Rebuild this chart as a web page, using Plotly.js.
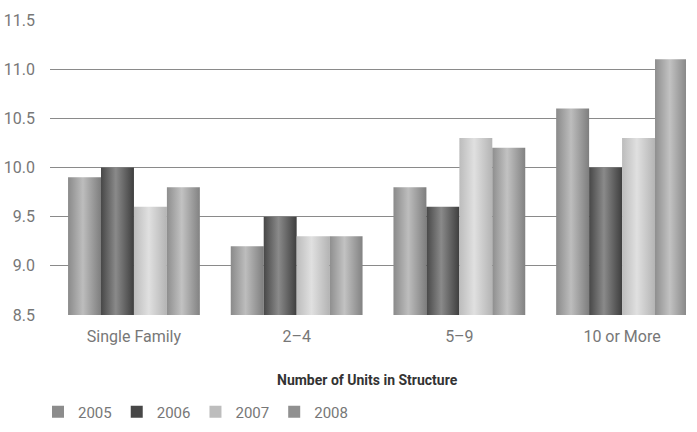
<!DOCTYPE html>
<html><head><meta charset="utf-8">
<script src="https://cdn.plot.ly/plotly-3.0.1.min.js"></script>
<style>body{margin:0;background:#fff}#c{width:697px;height:432px}</style>
</head><body><div id="c"></div>
<script>
const categories = ["Single Family", "2–4", "5–9", "10 or More"];
const years = ["2005", "2006", "2007", "2008"];
const v2005 = [9.9, 9.2, 9.8, 10.6];
const v2006 = [10.0, 9.5, 9.6, 10.0];
const v2007 = [9.6, 9.3, 10.3, 10.3];
const v2008 = [9.8, 9.3, 10.2, 11.1];
const yTicks = [8.5, 9.0, 9.5, 10.0, 10.5, 11.0, 11.5];
const xTitle = "Number of Units in Structure";

const series = [v2005, v2006, v2007, v2008];
const colors = ["#8c8c8c", "#474747", "#bdbdbd", "#909090"];
const grads = [["#8a8a8a","#bdbdbd","#7e7e7e"],["#474747","#8a8a8a","#3e3e3e"],["#bcbcbc","#e0e0e0","#b4b4b4"],["#8e8e8e","#c2c2c2","#828282"]];
const FONT = "Roboto, 'Liberation Sans', sans-serif";
const BASE = 8.5;

const traces = series.map((vals, i) => ({
  type: "bar", name: years[i], x: categories, y: vals.map(v => v - BASE),
  base: BASE,
  marker: {color: colors[i], line: {width: 0}},
  hoverinfo: "skip"
}));

const layout = {
  width: 697, height: 432,
  margin: {l: 50, r: 11, t: 20, b: 117, autoexpand: false},
  paper_bgcolor: "#fff", plot_bgcolor: "#fff",
  barmode: "group", bargap: 0.19, bargroupgap: 0,
  font: {family: FONT, color: "#777", size: 15},
  xaxis: {
    range: [-0.516, 3.393], showgrid: false, zeroline: false, showline: false,
    ticks: "", ticklabelstandoff: 10, tickfont: {size: 16, color: "#777"}, automargin: false
  },
  yaxis: {
    range: [8.5, 11.5], tickvals: yTicks, ticktext: yTicks.map(v => v.toFixed(1)),
    showgrid: true, gridcolor: "#8a8a8a", gridwidth: 1, zeroline: false,
    ticks: "", ticklabelstandoff: 14, tickfont: {size: 16, color: "#777"}, automargin: false
  },
  annotations: [{
    text: "<b>" + xTitle + "</b>", xref: "paper", yref: "paper",
    x: (367 - 50) / 636, y: -(380 - 315) / 295, xanchor: "center", yanchor: "middle",
    showarrow: false, font: {size: 14, color: "#333", family: FONT}
  }],
  showlegend: true,
  legend: {orientation: "h", x: 38/697, xanchor: "left", xref: "container", yref: "container",
    y: 1 - 412/432, yanchor: "middle",
    font: {size: 15, color: "#777"}, traceorder: "normal", itemwidth: 30}
};

Plotly.newPlot("c", traces, layout, {displayModeBar: false, staticPlot: true}).then(gd => {
  const svg = gd.querySelector("svg.main-svg");
  const ns = "http://www.w3.org/2000/svg";
  let defs = svg.querySelector("defs");
  grads.forEach((g, i) => {
    const lg = document.createElementNS(ns, "linearGradient");
    lg.setAttribute("id", "bg" + i);
    lg.setAttribute("x1", "0"); lg.setAttribute("x2", "1"); lg.setAttribute("y1", "0"); lg.setAttribute("y2", "0");
    [[0, g[0]], [0.45, g[1]], [1, g[2]]].forEach(([o, c]) => {
      const s = document.createElementNS(ns, "stop");
      s.setAttribute("offset", o); s.setAttribute("stop-color", c);
      lg.appendChild(s);
    });
    defs.appendChild(lg);
  });
  gd.querySelectorAll(".barlayer .trace").forEach((tr, i) => {
    tr.querySelectorAll("path").forEach(p => { p.style.fill = "url(#bg" + i + ")"; });
  });
});
</script></body></html>
